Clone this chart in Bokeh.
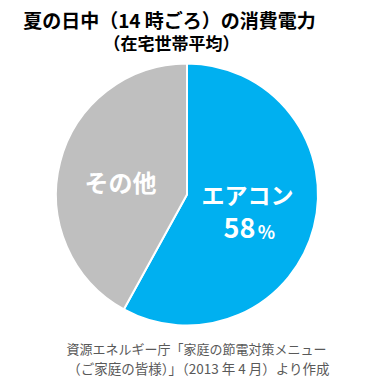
import math
from bokeh.plotting import figure
from bokeh.models import Range1d, ColumnDataSource, Label
from bokeh.embed import file_html
from bokeh.resources import INLINE

# ---- data ----
categories = ["エアコン", "その他"]
shares = [58, 42]
colors = ["#00B0F0", "#BFBFBF"]
title_text = "夏の日中（14 時ごろ）の消費電力"
subtitle_text = "（在宅世帯平均）"
source_lines = ["資源エネルギー庁「家庭の節電対策メニュー",
                "（ご家庭の皆様）」（2013 年 4 月）より作成"]

W, H = 383, 386
p = figure(width=W, height=H, output_backend="svg", toolbar_location=None,
           x_range=Range1d(0, W), y_range=Range1d(0, H), min_border=0)
p.axis.visible = False
p.grid.visible = False
p.outline_line_color = None
p.background_fill_color = "white"
p.border_fill_color = "white"

def Y(page_y):
    return H - page_y

cx, cy, r = 186.5, Y(194), 131

# angles: start at top, go clockwise
total = sum(shares)
starts, ends = [], []
a = math.pi / 2
for s in shares:
    sweep = 2 * math.pi * s / total
    starts.append(a - sweep)
    ends.append(a)
    a -= sweep

src = ColumnDataSource(dict(start=starts, end=ends, color=colors,
                            x=[cx] * len(shares), y=[cy] * len(shares)))
p.wedge(x="x", y="y", radius=r, start_angle="start", end_angle="end",
        fill_color="color", line_color="white", line_width=2, source=src)

FONT = "Noto Sans CJK JP"

def lab(x, y, text, size, color="black", bold=True, align="center"):
    p.add_layout(Label(x=x, y=Y(y), text=text, text_font=FONT,
                       text_font_size=f"{size}px",
                       text_font_style="bold" if bold else "normal",
                       text_color=color, text_align=align,
                       text_baseline="middle"))

lab(169, 19, title_text, 19)
lab(171, 42, subtitle_text, 17)

# slice labels
lab(247, 193, categories[0], 23, color="white")
lab(239, 227, f"{shares[0]}", 27, color="white", align="center")
lab(266, 230, "%", 18, color="white", align="center")
lab(120, 181, categories[1], 24, color="white")

lab(196, 348, source_lines[0], 13, color="#595959", bold=False)
lab(198, 367, source_lines[1], 13.5, color="#595959", bold=False)

open("out.html", "w").write(file_html(p, INLINE))
